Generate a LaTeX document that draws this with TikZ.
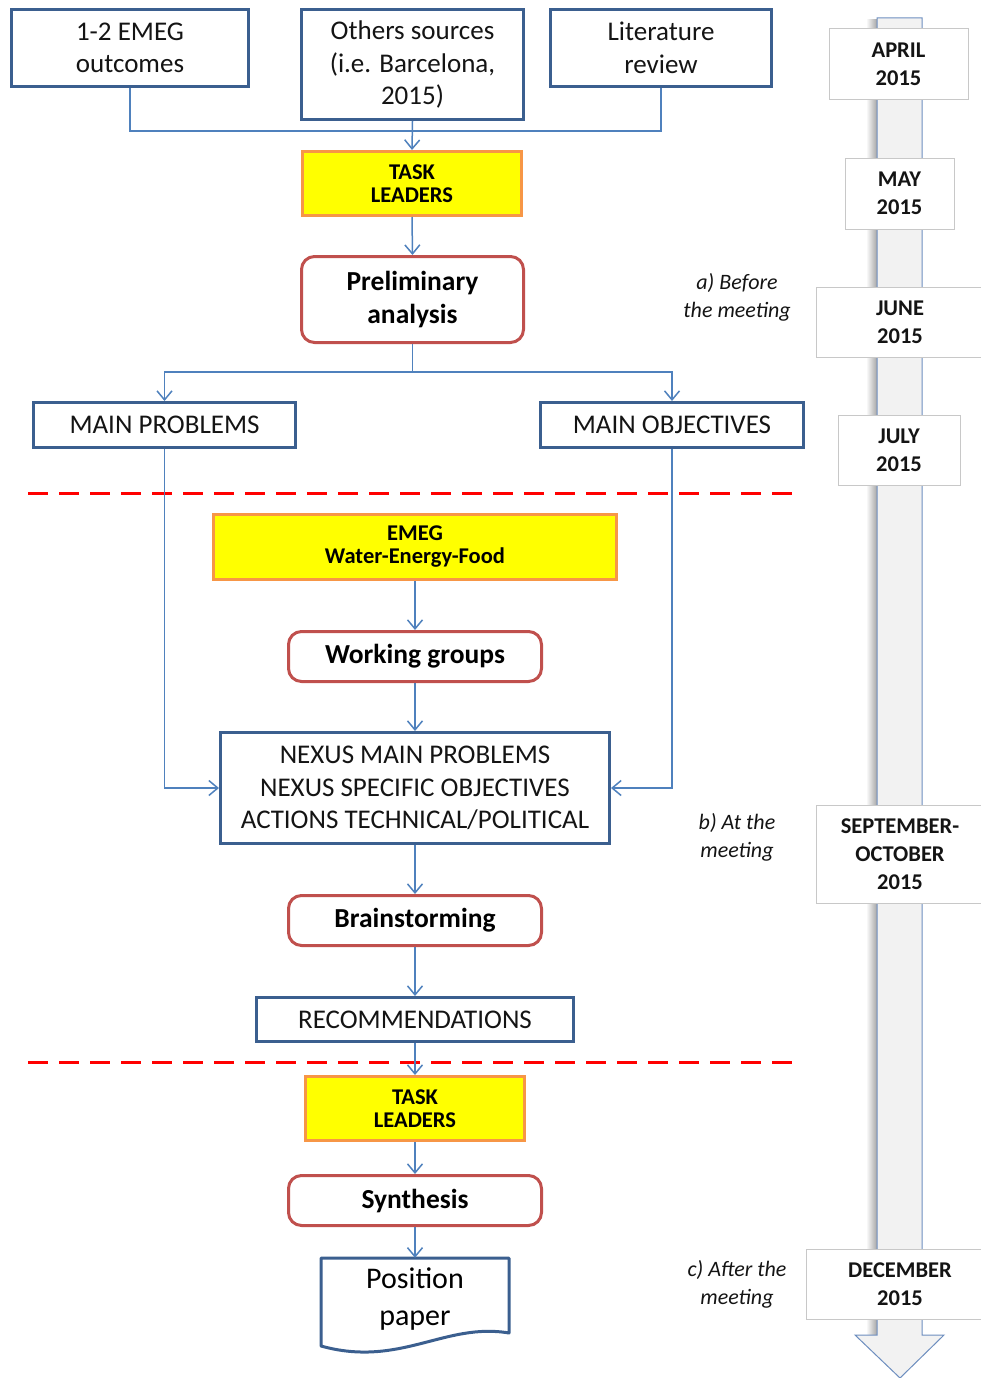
\documentclass[tikz,border=0pt]{standalone}
\usepackage{fontspec}
\setmainfont{Carlito}
\usetikzlibrary{arrows.meta}
\definecolor{boxblue}{HTML}{3B5F8F}
\definecolor{linkblue}{HTML}{4F81BD}
\definecolor{boxred}{HTML}{C0504D}
\definecolor{taskorange}{HTML}{F79646}
\definecolor{taskyellow}{HTML}{FFFF00}
\definecolor{tlfill}{HTML}{F2F2F2}
\definecolor{tlborder}{HTML}{6D8EBF}
\definecolor{dateborder}{HTML}{C8C8C8}
\definecolor{txt}{HTML}{141414}
\begin{document}
\begin{tikzpicture}[x=1pt,y=-1pt,
  bluebox/.style={draw=boxblue, line width=3pt, fill=white, align=center, inner sep=0pt, text=txt,
    font=\fontsize{27}{32.5}\selectfont},
  taskbox/.style={draw=taskorange, line width=3pt, fill=taskyellow, align=center, inner sep=0pt, text=black,
    font=\bfseries\fontsize{22.5}{23}\selectfont},
  redbox/.style={draw=boxred, line width=3pt, fill=white, rounded corners=13pt, align=center, inner sep=0pt,
    text=black, font=\bfseries\fontsize{27.5}{33}\selectfont},
  datebox/.style={draw=dateborder, line width=1pt, fill=white, align=center, inner sep=0pt, text=txt,
    font=\bfseries\fontsize{22.5}{28}\selectfont},
  phase/.style={align=center, inner sep=0pt, text=txt, font=\itshape\fontsize{22}{28}\selectfont},
  link/.style={draw=linkblue, line width=1.5pt},
  arr/.style={link, -{Straight Barb[length=9pt,width=15pt,line width=1.5pt]}},
  sep/.style={draw=red, line width=3pt, dash pattern=on 20pt off 11pt}
]
\useasboundingbox (0,0) rectangle (980,1378);

% ---------- timeline arrow ----------
\shade[left color=white, right color=black!35] (866,20) rectangle (877,1335);
\filldraw[fill=tlfill, draw=tlborder, line width=1pt]
  (877,18) -- (922,18) -- (922,1335) -- (944,1335) -- (900,1378) -- (855,1335) -- (877,1335) -- cycle;

\node[datebox, minimum width=139pt, minimum height=71pt] (apr) at (898.5,64.5) {APRIL\\2015};
\node[datebox, minimum width=109pt, minimum height=71pt] (may) at (899.5,193.5) {MAY\\2015};
\node[datebox, minimum width=168pt, minimum height=70pt] (jun) at (900,322) {JUNE\\2015};
\node[datebox, minimum width=122pt, minimum height=70pt] (jul) at (899,450) {JULY\\2015};
\node[datebox, minimum width=168pt, minimum height=98pt] (sep) at (900,854) {SEPTEMBER-\\OCTOBER\\2015};
\node[datebox, minimum width=188pt, minimum height=70pt] (dec) at (900,1284) {DECEMBER\\2015};

% ---------- phase labels ----------
\node[phase] (pa) at (737,297) {a) Before\\the meeting};
\node[phase] (pb) at (737,837) {b) At the\\meeting};
\node[phase] (pc) at (737,1284) {c) After the\\meeting};

% ---------- separators ----------
\coordinate (s1a) at (28,493);
\coordinate (s1b) at (800,493);
\coordinate (s2a) at (28,1062);
\coordinate (s2b) at (800,1062);
\draw[sep] (s1a) -- (s1b);
\draw[sep] (s2a) -- (s2b);

% ---------- nodes ----------
\node[bluebox, minimum width=237pt, minimum height=77pt] (b1) at (130,48) {1-2 EMEG\\outcomes};
\node[bluebox, minimum width=222pt, minimum height=110pt] (b2) at (412.5,64.5) {Others sources\\(i.e. Barcelona,\\2015)};
\node[bluebox, minimum width=221pt, minimum height=77pt] (b3) at (661,48) {Literature\\review};
\node[taskbox, minimum width=219pt, minimum height=64pt] (tl1) at (412,183.5) {TASK\\LEADERS};
\node[redbox, minimum width=222pt, minimum height=86pt] (pre) at (412.5,299.5) {Preliminary\\analysis};
\node[bluebox, minimum width=262pt, minimum height=45pt] (mp) at (164.5,425) {MAIN PROBLEMS};
\node[bluebox, minimum width=263pt, minimum height=45pt] (mo) at (672,425) {MAIN OBJECTIVES};
\node[taskbox, minimum width=403pt, minimum height=65pt] (emeg) at (415,547) {EMEG\\Water-Energy-Food};
\node[redbox, minimum width=253pt, minimum height=50pt] (wg) at (415,656.5) {Working groups};
\node[bluebox, minimum width=389pt, minimum height=111pt] (nx) at (415,788) {NEXUS MAIN PROBLEMS\\NEXUS SPECIFIC OBJECTIVES\\ACTIONS TECHNICAL/POLITICAL};
\node[redbox, minimum width=253pt, minimum height=50pt] (bs) at (415,920.5) {Brainstorming};
\node[bluebox, minimum width=317pt, minimum height=44pt] (rec) at (415,1019.5) {RECOMMENDATIONS};
\node[taskbox, minimum width=219pt, minimum height=64pt] (tl2) at (415,1108.5) {TASK\\LEADERS};
\node[redbox, minimum width=253pt, minimum height=50pt] (syn) at (415,1200.5) {Synthesis};
% document shape "Position paper"
\coordinate (pptl) at (321,1258);
\coordinate (pptr) at (509,1258);
\coordinate (ppbr) at (509,1333);
\coordinate (ppbl) at (321,1346);
\draw[draw=boxblue, line width=3pt, line join=round, fill=white]
  (ppbl) -- (pptl) -- (pptr) -- (ppbr)
  .. controls (445,1322) and (400,1368) .. (ppbl) -- cycle;
\node[inner sep=0pt, minimum width=188pt, minimum height=82pt, align=center, text=black,
      font=\fontsize{30}{37}\selectfont] (pp) at (415,1299) {Position\\paper};

% ---------- connectors ----------
\coordinate (j1) at (412,131);
\coordinate (j2) at (412.5,372);
\draw[link] (b1.south) |- (j1);
\draw[link] (b3.south) |- (j1);
\draw[arr] (b2.south) -- (tl1.north);
\draw[arr] (tl1.south) -- (pre.north);
\draw[link] (pre.south) -- (j2);
\draw[arr] (j2) -| (mp.north);
\draw[arr] (j2) -| (mo.north);
\draw[arr] (mp.south) |- (nx.west);
\draw[arr] (mo.south) |- (nx.east);
\draw[arr] (emeg.south) -- (wg.north);
\draw[arr] (wg.south) -- (nx.north);
\draw[arr] (nx.south) -- (bs.north);
\draw[arr] (bs.south) -- (rec.north);
\draw[arr] (rec.south) -- (tl2.north);
\draw[arr] (tl2.south) -- (syn.north);
\draw[arr] (syn.south) -- (pp.north);
\end{tikzpicture}
\end{document}
